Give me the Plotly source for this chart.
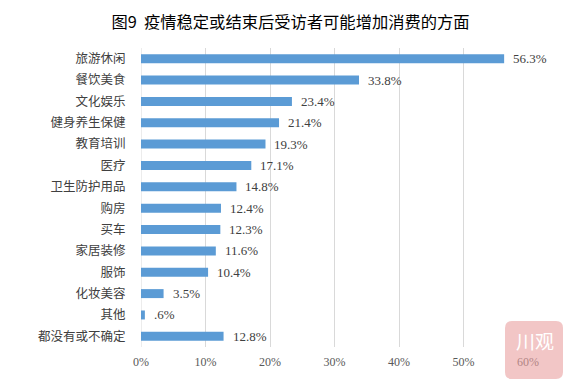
import plotly.graph_objects as go

categories = ["旅游休闲", "餐饮美食", "文化娱乐", "健身养生保健", "教育培训", "医疗",
              "卫生防护用品", "购房", "买车", "家居装修", "服饰", "化妆美容", "其他", "都没有或不确定"]
values = [56.3, 33.8, 23.4, 21.4, 19.3, 17.1, 14.8, 12.4, 12.3, 11.6, 10.4, 3.5, 0.6, 12.8]
labels = ["56.3%", "33.8%", "23.4%", "21.4%", "19.3%", "17.1%", "14.8%", "12.4%", "12.3%",
          "11.6%", "10.4%", "3.5%", ".6%", "12.8%"]
xticks = [0, 10, 20, 30, 40, 50, 60]
xticklabels = ["0%", "10%", "20%", "30%", "40%", "50%", "60%"]

# figure is drawn inside a page with an 8px body margin
W, H = 565, 381
ML, MR, MT, MB = 133, 45, 40, 42
PW, PH = W - ML - MR, H - MT - MB

fig = go.Figure(go.Bar(
    y=categories, x=values, orientation="h",
    marker=dict(color="#5B9BD5", line=dict(width=0)),
    width=0.42,
))

for v, c, t in zip(values, categories, labels):
    fig.add_annotation(x=v, y=c, xref="x", yref="y", text=t, showarrow=False,
                       xanchor="left", yanchor="middle", xshift=7,
                       font=dict(family="Liberation Serif", size=13, color="#404040"))

fig.update_layout(
    width=W, height=H,
    margin=dict(l=ML, r=MR, t=MT, b=MB),
    paper_bgcolor="white", plot_bgcolor="white",
    title=dict(text="图9  疫情稳定或结束后受访者可能增加消费的方面", x=0.5, xanchor="center",
               y=1 - 14 / H, yanchor="middle",
               font=dict(family="Noto Sans CJK SC", size=16.3, color="#000000")),
    showlegend=False,
    xaxis=dict(range=[0, 60], tickvals=xticks, ticktext=xticklabels, automargin=False,
               showgrid=True, gridcolor="#D9D9D9", gridwidth=1, zeroline=False,
               showline=False, ticks="outside", ticklen=4, tickcolor="white",
               tickfont=dict(family="Liberation Serif", size=12, color="#595959")),
    yaxis=dict(autorange="reversed", showgrid=False, zeroline=False, showline=False,
               automargin=False, ticks="outside", ticklen=12, tickcolor="white",
               tickfont=dict(family="Noto Sans CJK SC", size=12.5, color="#404040")),
)

fig.add_shape(type="line", xref="x", yref="paper", x0=0, x1=0, y0=0, y1=1,
              line=dict(color="#D9D9D9", width=1), layer="below")

# watermark logo (bottom-right), rounded rectangle in pixel -> paper coords
lx0, lx1, ly0, ly1, rad = 497, 555, 313, 371, 7


def px(x):
    return (x - ML) / PW


def py(y):
    return (H - MB - y) / PH


path = (f"M {px(lx0 + rad)},{py(ly0)} L {px(lx1 - rad)},{py(ly0)} "
        f"Q {px(lx1)},{py(ly0)} {px(lx1)},{py(ly0 + rad)} "
        f"L {px(lx1)},{py(ly1 - rad)} Q {px(lx1)},{py(ly1)} {px(lx1 - rad)},{py(ly1)} "
        f"L {px(lx0 + rad)},{py(ly1)} Q {px(lx0)},{py(ly1)} {px(lx0)},{py(ly1 - rad)} "
        f"L {px(lx0)},{py(ly0 + rad)} Q {px(lx0)},{py(ly0)} {px(lx0 + rad)},{py(ly0)} Z")
fig.add_shape(type="path", xref="paper", yref="paper", path=path,
              fillcolor="rgba(234,160,160,0.6)", line=dict(width=0), layer="above")
fig.add_annotation(text="川观", xref="paper", yref="paper",
                   x=px((lx0 + lx1) / 2 + 1), y=py(332), borderpad=0,
                   showarrow=False, xanchor="center", yanchor="middle",
                   font=dict(family="Noto Sans CJK SC", size=19, color="white"))

fig.write_html("out.html")
